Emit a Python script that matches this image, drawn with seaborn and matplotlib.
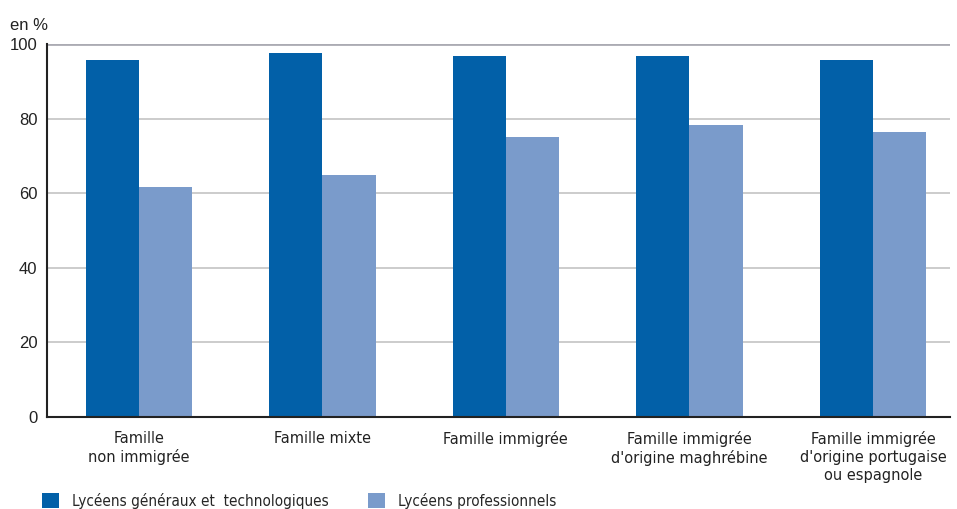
import matplotlib
matplotlib.use("Agg")
import matplotlib.pyplot as plt
import seaborn as sns
import pandas as pd
from matplotlib.patches import Patch

categories = ["Famille\nnon immigrée", "Famille mixte", "Famille immigrée",
              "Famille immigrée\nd'origine maghrébine",
              "Famille immigrée\nd'origine portugaise\nou espagnole"]
series_names = ["Lycéens généraux et  technologiques", "Lycéens professionnels"]
gen_tech = [95.6, 97.5, 96.8, 96.8, 95.7]
pro = [61.6, 64.9, 75.1, 78.3, 76.5]
yticks = [0, 20, 40, 60, 80, 100]
colors = ["#0260A8", "#7A9BCB"]

df = pd.DataFrame({
    "cat": categories * 2,
    "serie": [series_names[0]] * 5 + [series_names[1]] * 5,
    "val": gen_tech + pro,
})

sns.set_theme(style="white")
plt.rcParams['font.family'] = ['DejaVu Sans']
plt.rcParams['font.stretch'] = 'condensed'

fig = plt.figure(figsize=(9.57, 5.09), dpi=100)
ax = fig.add_axes([47/957, 92/509, 903/957, 373/509])
sns.barplot(data=df, x="cat", y="val", hue="serie", palette=colors,
            width=0.58, saturation=1, ax=ax, legend=False, errorbar=None,
            linewidth=0, edgecolor="none")

ax.set_ylim(0, 100)
ax.set_xlim(-0.5, 4.42)
ax.set_yticks(yticks)
ax.set_yticklabels([str(t) for t in yticks], fontsize=12, color="#222222",
                   family="Liberation Sans", fontstretch="normal")
ax.set_xticks(range(len(categories)))
ax.set_xticklabels(categories, fontsize=11.7, color="#222222", linespacing=1.27)
ax.tick_params(axis="x", length=0, pad=10)
ax.tick_params(axis="y", length=0, pad=7)
ax.set_xlabel("")
ax.set_ylabel("")
for t in yticks[1:]:
    ax.axhline(t, color="#ABABB3" if t == 100 else "#C8C8C8", lw=2 if t == 100 else 1.3, zorder=0)
for s in ["top", "right"]:
    ax.spines[s].set_visible(False)
ax.spines["left"].set_color("#222222")
ax.spines["bottom"].set_color("#222222")
ax.spines["left"].set_linewidth(1.5)
ax.spines["bottom"].set_linewidth(1.5)

fig.text(10/957, 1 - 25/509, "en %", fontsize=12, color="#222222", va="center", ha="left",
         family="Liberation Sans", fontstretch="normal")

handles = [Patch(facecolor=c, edgecolor="none") for c in colors]
fig.legend(handles, series_names, loc="center left", bbox_to_anchor=(42/957, 1 - 501/509),
           ncol=2, frameon=False, fontsize=11, handlelength=1.1, handleheight=1.1,
           columnspacing=2.6, handletextpad=0.85, borderpad=0, borderaxespad=0)

fig.savefig("out.png", dpi=100)
